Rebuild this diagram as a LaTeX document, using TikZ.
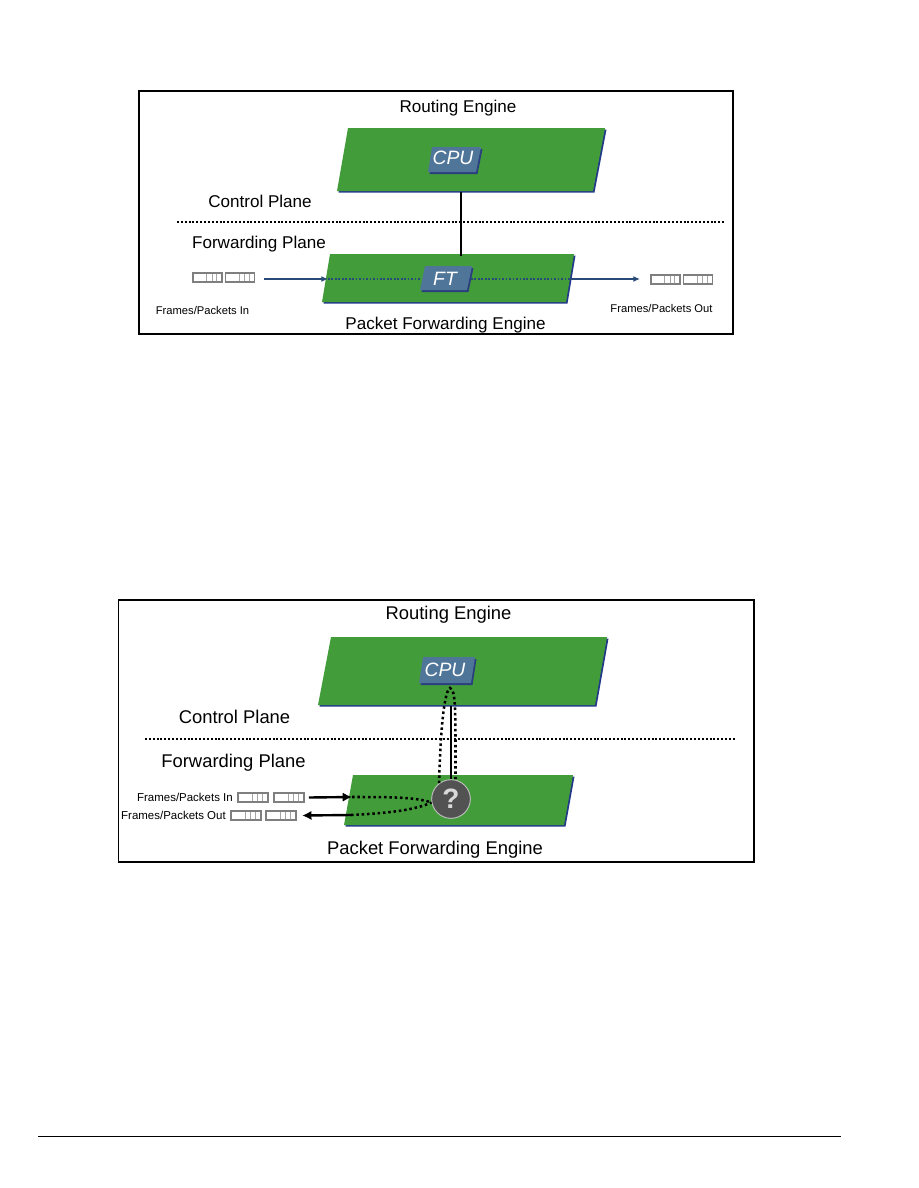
\documentclass[tikz,border=0pt]{standalone}
\usepackage{fontspec}
\setmainfont{Liberation Sans}
\definecolor{plategreen}{HTML}{439C3A}
\definecolor{plateedge}{HTML}{22398A}
\definecolor{chipblue}{HTML}{4F7598}
\definecolor{chipedge}{HTML}{2B3F7E}
\definecolor{linkblue}{HTML}{274A78}
\definecolor{framegrey}{HTML}{7F7F7F}
\tikzset{
  panel/.style={draw=black, line width=1pt},
  plane/.style={font=\fontsize{12.8pt}{15pt}\selectfont, inner sep=0pt},
  plane big/.style={font=\fontsize{13.8pt}{16pt}\selectfont, inner sep=0pt},
  small label/.style={font=\fontsize{8.4pt}{10pt}\selectfont, inner sep=0pt},
  chip text/.style={font=\fontsize{14.5pt}{16pt}\selectfont\itshape, text=white, inner sep=0pt},
  dots/.style={line width=1.5pt, dash pattern=on 1.5pt off 1.4pt},
  big dots/.style={line width=1.9pt, dash pattern=on 1.9pt off 2.1pt},
  frame cell/.style={draw=framegrey, fill=white, line width=1.2pt, minimum width=21.5pt, minimum height=6.5pt, inner sep=0pt,
    path picture={\draw[framegrey!70, line width=0.6pt]
      ([xshift=-0.5pt]path picture bounding box.north) -- ([xshift=-0.5pt]path picture bounding box.south)
      ([xshift=3.5pt]path picture bounding box.north) -- ([xshift=3.5pt]path picture bounding box.south)
      ([xshift=7pt]path picture bounding box.north) -- ([xshift=7pt]path picture bounding box.south);}},
}
\newcommand{\plate}[8]{%
  \fill[plateedge] ($(#1,#2)+(1.5,1.5)$) -- ($(#3,#4)+(1.5,1.5)$) -- ($(#5,#6)+(1.5,1.5)$) -- ($(#7,#8)+(1.5,1.5)$) -- cycle;
  \fill[plategreen] (#1,#2) -- (#3,#4) -- (#5,#6) -- (#7,#8) -- cycle;}
\newcommand{\chip}[8]{%
  \fill[chipedge] ($(#1,#2)+(1.5,2)$) -- ($(#3,#4)+(1.5,2)$) -- ($(#5,#6)+(1.5,2)$) -- ($(#7,#8)+(1.5,2)$) -- cycle;
  \fill[chipblue] (#1,#2) -- (#3,#4) -- (#5,#6) -- (#7,#8) -- cycle;}
\usetikzlibrary{calc,arrows.meta}
\begin{document}
\begin{tikzpicture}[x=0.75pt, y=-0.75pt]
  \useasboundingbox (0,0) rectangle (918,1188);

  % Upper panel
  \draw[panel] (139,91) rectangle (733,334);
  \node[plane] (reA) at (458,108) {Routing Engine};
  \plate{348}{128}{605}{128}{593}{191}{337}{191}
  \chip{432}{147}{481}{147}{476}{172}{428}{172}
  \node[chip text] (cpuA) at (453,158) {CPU};

  % Plane separator
  \coordinate (sepAl) at (177,222);
  \coordinate (sepAr) at (724,222);
  \draw[dots] (sepAl) -- (sepAr);
  \node[plane] (ctlA) at (260,201.5) {Control Plane};
  \node[plane] (fwdA) at (259,244) {Forwarding Plane};

  % Lower plate and the link between the plates
  \plate{330}{254}{574}{254}{566}{302}{322}{302}
  \coordinate (upA) at (460.5,192);
  \coordinate (downA) at (460.5,256);
  \draw[line width=1.5pt] (upA) -- (downA);
  \chip{425}{266}{472}{266}{467}{290}{420}{290}
  \node[chip text] (ftA) at (445,279) {FT};
  \node[plane] (pfeA) at (445.5,325) {Packet Forwarding Engine};

  % Traffic through the forwarding table
  \node[frame cell] (inA) at (207.5,277.5) {};
  \node[frame cell] (inB) at (240,277.5) {};
  \node[frame cell] (outA) at (665.5,279.5) {};
  \node[frame cell] (outB) at (698,279.5) {};
  \coordinate (entA) at (264,279);
  \coordinate (plateAl) at (328,279);
  \coordinate (plateAr) at (570,279);
  \coordinate (extA) at (640,279);
  \coordinate (chipAl) at (421,279);
  \coordinate (chipAr) at (471,279);
  \draw[linkblue, line width=1.1pt, -{Latex[length=5pt,width=4.5pt]}] (entA) -- (plateAl);
  \draw[linkblue, line width=1.1pt, -{Latex[length=5pt,width=4.5pt]}] (plateAr) -- (extA);
  \draw[linkblue, line width=1pt, dash pattern=on 1.3pt off 1.3pt] (plateAl) -- (chipAl);
  \draw[linkblue, line width=1pt, dash pattern=on 1.3pt off 1.3pt] (chipAr) -- (plateAr);
  \node[small label] (txtIn) at (202.5,310) {Frames/Packets In};
  \node[small label] (txtOut) at (661.5,308) {Frames/Packets Out};

  % Lower panel
  \draw[panel] (118.5,600) rectangle (754,862);
  \node[plane big] (reB) at (448.5,615) {Routing Engine};
  \plate{331}{637}{607}{637}{595}{705}{318}{705}
  \chip{423}{657}{475}{657}{471}{683}{419}{683}
  \node[chip text] (cpuB) at (445,670) {CPU};

  % Plane separator
  \coordinate (sepBl) at (145,739);
  \coordinate (sepBr) at (736,739);
  \draw[dots] (sepBl) -- (sepBr);
  \node[plane big] (ctlB) at (234.5,717) {Control Plane};
  \node[plane big] (fwdB) at (233.5,763) {Forwarding Plane};

  % Lower plate with the unknown lookup
  \plate{353}{775}{573}{775}{564}{825}{344}{825}
  \coordinate (upB) at (451,706);
  \node[circle, draw=black!25, fill=black!68, line width=0.7pt, minimum size=29pt, inner sep=0pt, font=\fontsize{21pt}{22pt}\selectfont\bfseries, text=black!15] (ask) at (451,799) {?};
  \draw[line width=1.6pt] (upB) -- (ask.north);
  \node[plane big] (pfeB) at (435,850) {Packet Forwarding Engine};

  % Punted traffic
  \coordinate (topB) at (450,688);
  \coordinate (askR) at (455.5,779);
  \draw[big dots] (ask.127) .. controls (440,745) and (443,692) .. (topB) .. controls (456,690) and (455.5,710) .. (askR);
  \node[frame cell, minimum width=22.5pt] (inC) at (253,797.5) {};
  \node[frame cell, minimum width=22.5pt] (inD) at (289,797.5) {};
  \node[frame cell, minimum width=22.5pt] (outC) at (246,815.5) {};
  \node[frame cell, minimum width=22.5pt] (outD) at (281,815.5) {};
  \node[small label, font=\fontsize{8.6pt}{10pt}\selectfont, anchor=east] (txtInB) at (233,797) {Frames/Packets In};
  \node[small label, font=\fontsize{8.6pt}{10pt}\selectfont, anchor=east] (txtOutB) at (226,815) {Frames/Packets Out};
  \coordinate (plateBi) at (352,797);
  \coordinate (plateBo) at (351,815);
  \draw[line width=1.8pt, -{Latex[length=7pt,width=7pt]}] ([xshift=3pt]inD.east) -- (plateBi);
  \draw[line width=1.8pt, -{Latex[length=7pt,width=7pt]}] (plateBo) -- ([xshift=4pt]outD.east);
  \draw[big dots] (plateBi) .. controls (390,797) and (415,797) .. (ask.190);
  \draw[big dots] (plateBo) .. controls (390,813) and (415,810) .. (ask.190);

  % Page rule
  \coordinate (ruleL) at (38,1136);
  \coordinate (ruleR) at (841,1136);
  \draw[line width=0.7pt] (ruleL) -- (ruleR);
\end{tikzpicture}
\end{document}
